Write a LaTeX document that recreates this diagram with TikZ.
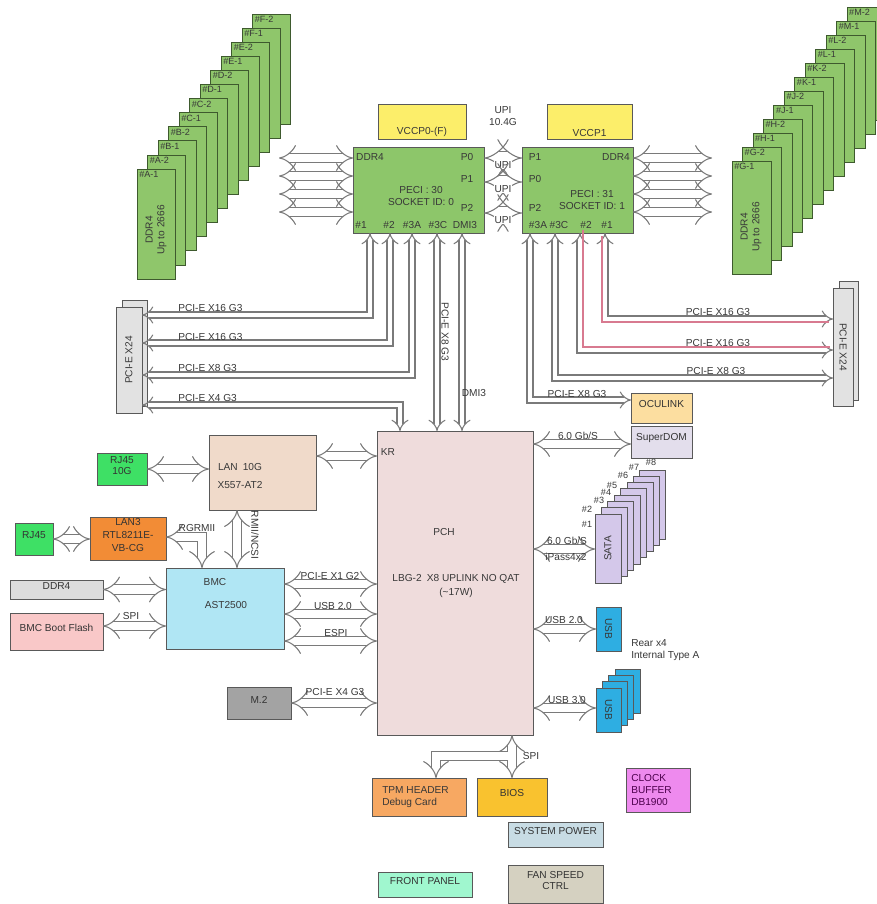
\documentclass[tikz,border=0pt]{standalone}
\usepackage{fontspec}
\setmainfont{Liberation Sans}
\usetikzlibrary{arrows.meta, fit, calc}
\definecolor{dimmgreen}{HTML}{8FC66B}
\definecolor{dimmedge}{HTML}{3E5A2E}
\definecolor{cpugreen}{HTML}{8DC66A}
\definecolor{vccyellow}{HTML}{FCEE6A}
\definecolor{slotgray}{HTML}{E2E2E2}
\definecolor{pchpink}{HTML}{EFDCDC}
\definecolor{lantan}{HTML}{F0DACA}
\definecolor{rjgreen}{HTML}{3EE065}
\definecolor{lanorange}{HTML}{F28C36}
\definecolor{bmcblue}{HTML}{B0E6F4}
\definecolor{ddrgray}{HTML}{DCDCDC}
\definecolor{flashpink}{HTML}{F9C8C8}
\definecolor{mtwogray}{HTML}{A3A3A3}
\definecolor{oculink}{HTML}{FCDEA0}
\definecolor{domlilac}{HTML}{E3DEEC}
\definecolor{satalilac}{HTML}{D4C8EA}
\definecolor{usbblue}{HTML}{2EAEE2}
\definecolor{tpmorange}{HTML}{F7A862}
\definecolor{biosgold}{HTML}{F9C22F}
\definecolor{pwrblue}{HTML}{C8DCE4}
\definecolor{panelmint}{HTML}{A0F7CF}
\definecolor{fangray}{HTML}{D5D1C1}
\definecolor{clockpink}{HTML}{EE8AEE}
\definecolor{buspink}{HTML}{D87A90}
\tikzset{
  blk/.style={draw=black!65, line width=0.6pt, inner sep=0pt, outer sep=0pt,
    text=black!80, align=center},
  dimm/.style={blk, draw=dimmedge, fill=dimmgreen},
  lbl/.style={text=black!78, inner sep=0pt},
  bus/.style={draw=black!52, line width=0.8pt, double=white, double distance=6.2pt, {Implies}-{Implies}},
  thinbus/.style={draw=black!52, line width=0.8pt, double=white, double distance=3.7pt, {Implies}-{Implies}},
  upibus/.style={draw=black!52, line width=0.8pt, double=white, double distance=9.6pt, {Implies}-{Implies}}
}
\begin{document}
\begin{tikzpicture}[x=0.75pt, y=-0.75pt, font=\fontsize{7.6}{8.8}\selectfont]
\useasboundingbox (0,0) rectangle (877,904);
\fill[white] (0,0) rectangle (877,904);

% memory, CPU0 side
\foreach \i/\lab in {11/F-2,10/F-1,9/E-2,8/E-1,7/D-2,6/D-1,5/C-2,4/C-1,3/B-2,2/B-1,1/A-2,0/A-1}
  \node[dimm, fit={({137+10.5*\i},{169-14.1*\i}) ({175+10.5*\i},{279-14.1*\i})},
    label={[lbl, inner sep=1.5pt, anchor=north west, font=\fontsize{6.8}{8}\selectfont]north west:\#\lab}] (dl\i) {};
\node[lbl, rotate=90, align=center] (dltxt) at (156,230) {DDR4\\Up to 2666};

% memory, CPU1 side
\foreach \i/\lab in {11/M-2,10/M-1,9/L-2,8/L-1,7/K-2,6/K-1,5/J-2,4/J-1,3/H-2,2/H-1,1/G-2,0/G-1}
  \node[dimm, fit={({732+10.45*\i},{161-14*\i}) ({771+10.45*\i},{274-14*\i})},
    label={[lbl, inner sep=1.5pt, anchor=north west, font=\fontsize{6.8}{8}\selectfont]north west:\#\lab}] (dr\i) {};
\node[lbl, rotate=90, align=center] (drtxt) at (751,227) {DDR4\\Up to 2666};

% power and CPUs
\node[blk, fill=vccyellow, fit={(378,104) (466,139)}] (vcc0) {};
\node[lbl, anchor=south] (vcc0txt) at ([yshift=1.5pt]vcc0.south) {VCCP0-(F)};
\node[blk, fill=vccyellow, fit={(547,104) (632,139)}] (vcc1) {};
\node[lbl, anchor=south] (vcc1txt) at ([yshift=1.5pt]vcc1.south) {VCCP1};
\node[lbl, align=center] (upispeed) at (503,116) {UPI\\10.4G};

\node[blk, fill=cpugreen, fit={(353,147) (484,233)}] (cpu0) {};
\node[blk, fill=cpugreen, fit={(522,147) (633,233)}] (cpu1) {};

\node[lbl] (c0ddr) at (370,157) {DDR4};
\node[lbl] (c0P0) at (467,157) {P0};
\node[lbl] (c0P1) at (467,179) {P1};
\node[lbl] (c0P2) at (467,208) {P2};
\node[lbl, align=center] (c0peci) at (421,196) {PECI : 30\\SOCKET ID: 0};
\node[lbl] (c0p1) at (361,225) {\#1};
\node[lbl] (c0p2) at (389,225) {\#2};
\node[lbl] (c0p3a) at (412,225) {\#3A};
\node[lbl] (c0p3c) at (438,225) {\#3C};
\node[lbl] (c0dmi) at (465,225) {DMI3};

\node[lbl] (c1P1) at (535,157) {P1};
\node[lbl] (c1P0) at (535,179) {P0};
\node[lbl] (c1P2) at (535,208) {P2};
\node[lbl] (c1ddr) at (616,157) {DDR4};
\node[lbl, align=center] (c1peci) at (592,200) {PECI : 31\\SOCKET ID: 1};
\node[lbl] (c1p3a) at (538,225) {\#3A};
\node[lbl] (c1p3c) at (559,225) {\#3C};
\node[lbl] (c1p2) at (586,225) {\#2};
\node[lbl] (c1p1) at (607,225) {\#1};

% slots
\node[blk, fill=slotgray, fit={(122,300) (147,406)}] (slotLb) {};
\node[blk, fill=slotgray, fit={(116,307) (142,413)}] (slotL) {};
\node[lbl, rotate=90] (slotLtxt) at (slotL.center) {PCI-E X24};
\node[blk, fill=slotgray, fit={(839,281) (858,400)}] (slotRb) {};
\node[blk, fill=slotgray, fit={(833,288) (853,406)}] (slotR) {};
\node[lbl, rotate=-90] (slotRtxt) at (slotR.center) {PCI-E X24};

% PCH
\node[blk, fill=pchpink, fit={(377,431) (533,735)}] (pch) {};
\node[lbl] (pchtxt) at (444,532) {PCH};
\node[lbl, align=center] (pchsku) at (456,586) {LBG-2\enspace X8 UPLINK NO QAT\\[2pt](\textasciitilde17W)};
\node[lbl] (kr) at (388,452) {KR};

% right of PCH
\node[blk, fill=oculink, fit={(631,393) (692,423)}] (ocul) {OCULINK};
\node[blk, fill=domlilac, fit={(631,426) (692,458)}] (sdom) {SuperDOM};
\foreach \i in {7,...,0}
  \node[blk, fill=satalilac, fit={({595+6.4*\i},{514-6.3*\i}) ({621+6.4*\i},{583-6.3*\i})}] (sata\i) {};
\node[lbl, rotate=90] (satatxt) at (sata0.center) {SATA};
\foreach \k/\px/\py in {1/587/524,2/587/509,3/599/500,4/606/492,5/612/485,6/623/475,7/634/467,8/651/462}
  \node[lbl, font=\fontsize{6.8}{8}\selectfont] (satano\k) at (\px,\py) {\#\k};
\node[blk, fill=usbblue, fit={(596,607) (621,651)}] (usb2) {};
\node[lbl, rotate=-90] (usb2txt) at (usb2.center) {USB};
\node[lbl, anchor=west, align=left] (reartxt) at (631,650) {Rear x4\\Internal Type A};
\foreach \i in {3,...,0}
  \node[blk, fill=usbblue, fit={({596+6.3*\i},{688-6.3*\i}) ({621+6.3*\i},{732-6.3*\i})}] (usbb\i) {};
\node[lbl, rotate=-90] (usb3txt) at (usbb0.center) {USB};

% left of PCH
\node[blk, fill=lantan, fit={(209,435) (316,510)}] (lan10) {};
\node[lbl, align=center] (lan10txt) at (240,476) {LAN\enspace10G\\[5pt]X557-AT2};
\node[blk, fill=rjgreen, fit={(97,453) (147,485)}] (rj10) {RJ45\\10G};
\node[blk, fill=lanorange, fit={(90,517) (166,560)}, font=\fontsize{7.6}{9.8}\selectfont] (lan3) {LAN3\\RTL8211E-\\VB-CG};
\node[blk, fill=rjgreen, fit={(15,523) (53,555)}] (rj) {RJ45};
\node[blk, fill=bmcblue, fit={(166,568) (284,649)}] (bmc) {};
\node[lbl] (bmctxt) at (215,582) {BMC};
\node[lbl] (bmcchip) at (226,605) {AST2500};
\node[blk, fill=ddrgray, fit={(10,580) (103,599)}] (ddr) {DDR4};
\node[blk, fill=flashpink, fit={(10,613) (103,650)}] (flash) {BMC Boot Flash};
\node[blk, fill=mtwogray, fit={(227,687) (291,719)}] (mtwo) {M.2};

% bottom
\node[blk, fill=tpmorange, fit={(372,778) (466,816)}] (tpm) {};
\node[lbl, anchor=west, align=left] (tpmtxt) at (382,797) {TPM HEADER\\Debug Card};
\node[blk, fill=biosgold, fit={(477,778) (547,816)}] (bios) {BIOS};
\node[blk, fill=pwrblue, fit={(508,822) (603,847)}] (power) {SYSTEM POWER};
\node[blk, fill=panelmint, fit={(378,872) (472,897)}] (panel) {FRONT PANEL};
\node[blk, fill=fangray, fit={(508,865) (603,903)}] (fan) {FAN SPEED\\CTRL};
\node[blk, fill=clockpink, fit={(626,768) (690,812)}] (clock) {};
\node[lbl, anchor=west, align=left, text=violet!60!black] (clocktxt) at (631,790) {CLOCK\\BUFFER\\DB1900};

% memory buses
\foreach \y in {158,176,194,212} {
  \draw[bus] (279,\y) -- (cpu0.west |- 0,\y);
  \draw[bus] (cpu1.east |- 0,\y) -- (712,\y);
}

% UPI
\foreach \p/\y in {0/158,1/182,2/213} {
  \draw[upibus] (cpu0.east |- 0,\y) -- (cpu1.west |- 0,\y);
  \node[lbl, fill=white, inner sep=0.6pt] (upi\p) at (503,\y+7) {UPI};
}

% CPU0 PCIe
\draw[thinbus] (cpu0.south -| 370,0) |- (slotL.east |- 0,315);
\draw[thinbus] (cpu0.south -| 390,0) |- (slotL.east |- 0,343);
\draw[thinbus] (cpu0.south -| 412,0) |- (slotL.east |- 0,375);
\draw[thinbus] (pch.north -| 400,0) |- (slotL.east |- 0,405);
\draw[thinbus] (cpu0.south -| 437,0) -- (pch.north -| 437,0);
\draw[thinbus] (cpu0.south -| 462,0) -- (pch.north -| 462,0);
\node[lbl, anchor=west] (lx16a) at (178,308) {PCI-E X16 G3};
\node[lbl, anchor=west] (lx16b) at (178,337) {PCI-E X16 G3};
\node[lbl, anchor=west] (lx8) at (178,368) {PCI-E X8 G3};
\node[lbl, anchor=west] (lx4) at (178,398) {PCI-E X4 G3};
\node[lbl, rotate=-90] (lx8v) at (445,332) {PCI-E X8 G3};
\node[lbl] (ldmi) at (474,393) {DMI3};

% CPU1 PCIe
\draw[thinbus] (cpu1.south -| 605,0) |- (slotR.west |- 0,319);
\draw[thinbus] (cpu1.south -| 580,0) |- (slotR.west |- 0,350);
\draw[thinbus] (cpu1.south -| 555,0) |- (slotR.west |- 0,378);
\draw[thinbus] (cpu1.south -| 530,0) |- (ocul.west |- 0,400);
\draw[buspink, line width=0.8pt, transform canvas={shift={(-3,3)}}]
  (cpu1.south -| 605,0) |- ($(slotR.west |- 0,319)+(-1,0)$);
\draw[buspink, line width=0.8pt, transform canvas={shift={(3,-3)}}]
  (cpu1.south -| 580,0) |- ($(slotR.west |- 0,350)+(-6,0)$);
\node[lbl] (rx16a) at (718,312) {PCI-E X16 G3};
\node[lbl] (rx16b) at (718,343) {PCI-E X16 G3};
\node[lbl] (rx8) at (716,371) {PCI-E X8 G3};
\node[lbl] (rocu) at (577,394) {PCI-E X8 G3};

% PCH right
\draw[bus] (pch.east |- 0,444) -- (sdom.west |- 0,444);
\node[lbl] (ldom) at (578,436) {6.0 Gb/S};
\draw[bus] (pch.east |- 0,549) -- (sata0.west |- 0,549);
\node[lbl] (lsata) at (567,541) {6.0 Gb/S};
\node[lbl] (lipass) at (566,557) {iPass4x2};
\draw[bus] (pch.east |- usb2.west) -- (usb2.west);
\node[lbl] (lusb2) at (564,620) {USB 2.0};
\draw[bus] (pch.east |- 0,708) -- (usbb0.west |- 0,708);
\node[lbl] (lusb3) at (567,700) {USB 3.0};

% PCH left
\draw[bus] (lan10.east |- 0,456) -- (pch.west |- 0,456);
\draw[bus] (rj10.east) -- (lan10.west |- rj10.east);
\draw[bus] (rj.east) -- (lan3.west |- rj.east);
\draw[bus] (lan3.east |- 0,537) -| (bmc.north -| 202,0);
\node[lbl] (lrgmii) at (197,528) {RGRMII};
\draw[bus] (lan10.south -| 237,0) -- (bmc.north -| 237,0);
\node[lbl, rotate=-90] (lncsi) at (255,535) {RMII/NCSI};
\draw[bus] (ddr.east) -- (bmc.west |- ddr.east);
\draw[bus] (flash.east |- 0,626) -- (bmc.west |- 0,626);
\node[lbl] (lspi) at (131,616) {SPI};
\draw[bus] (bmc.east |- 0,584) -- (pch.west |- 0,584);
\node[lbl] (lx1) at (330,576) {PCI-E X1 G2};
\draw[bus] (bmc.east |- 0,614) -- (pch.west |- 0,614);
\node[lbl] (lbusb) at (333,606) {USB 2.0};
\draw[bus] (bmc.east |- 0,641) -- (pch.west |- 0,641);
\node[lbl] (lespi) at (336,633) {ESPI};
\draw[bus] (mtwo.east) -- (pch.west |- mtwo.east);
\node[lbl] (lm2) at (335,692) {PCI-E X4 G3};

% SPI to BIOS and TPM
\coordinate (spiT) at (508,756);
\draw[bus] (pch.south -| 512,0) -- (bios.north -| 512,0);
\draw[bus, -{Implies}] (spiT) -| (tpm.north -| 436,0);
\node[lbl] (lbspi) at (531,756) {SPI};
\end{tikzpicture}
\end{document}
